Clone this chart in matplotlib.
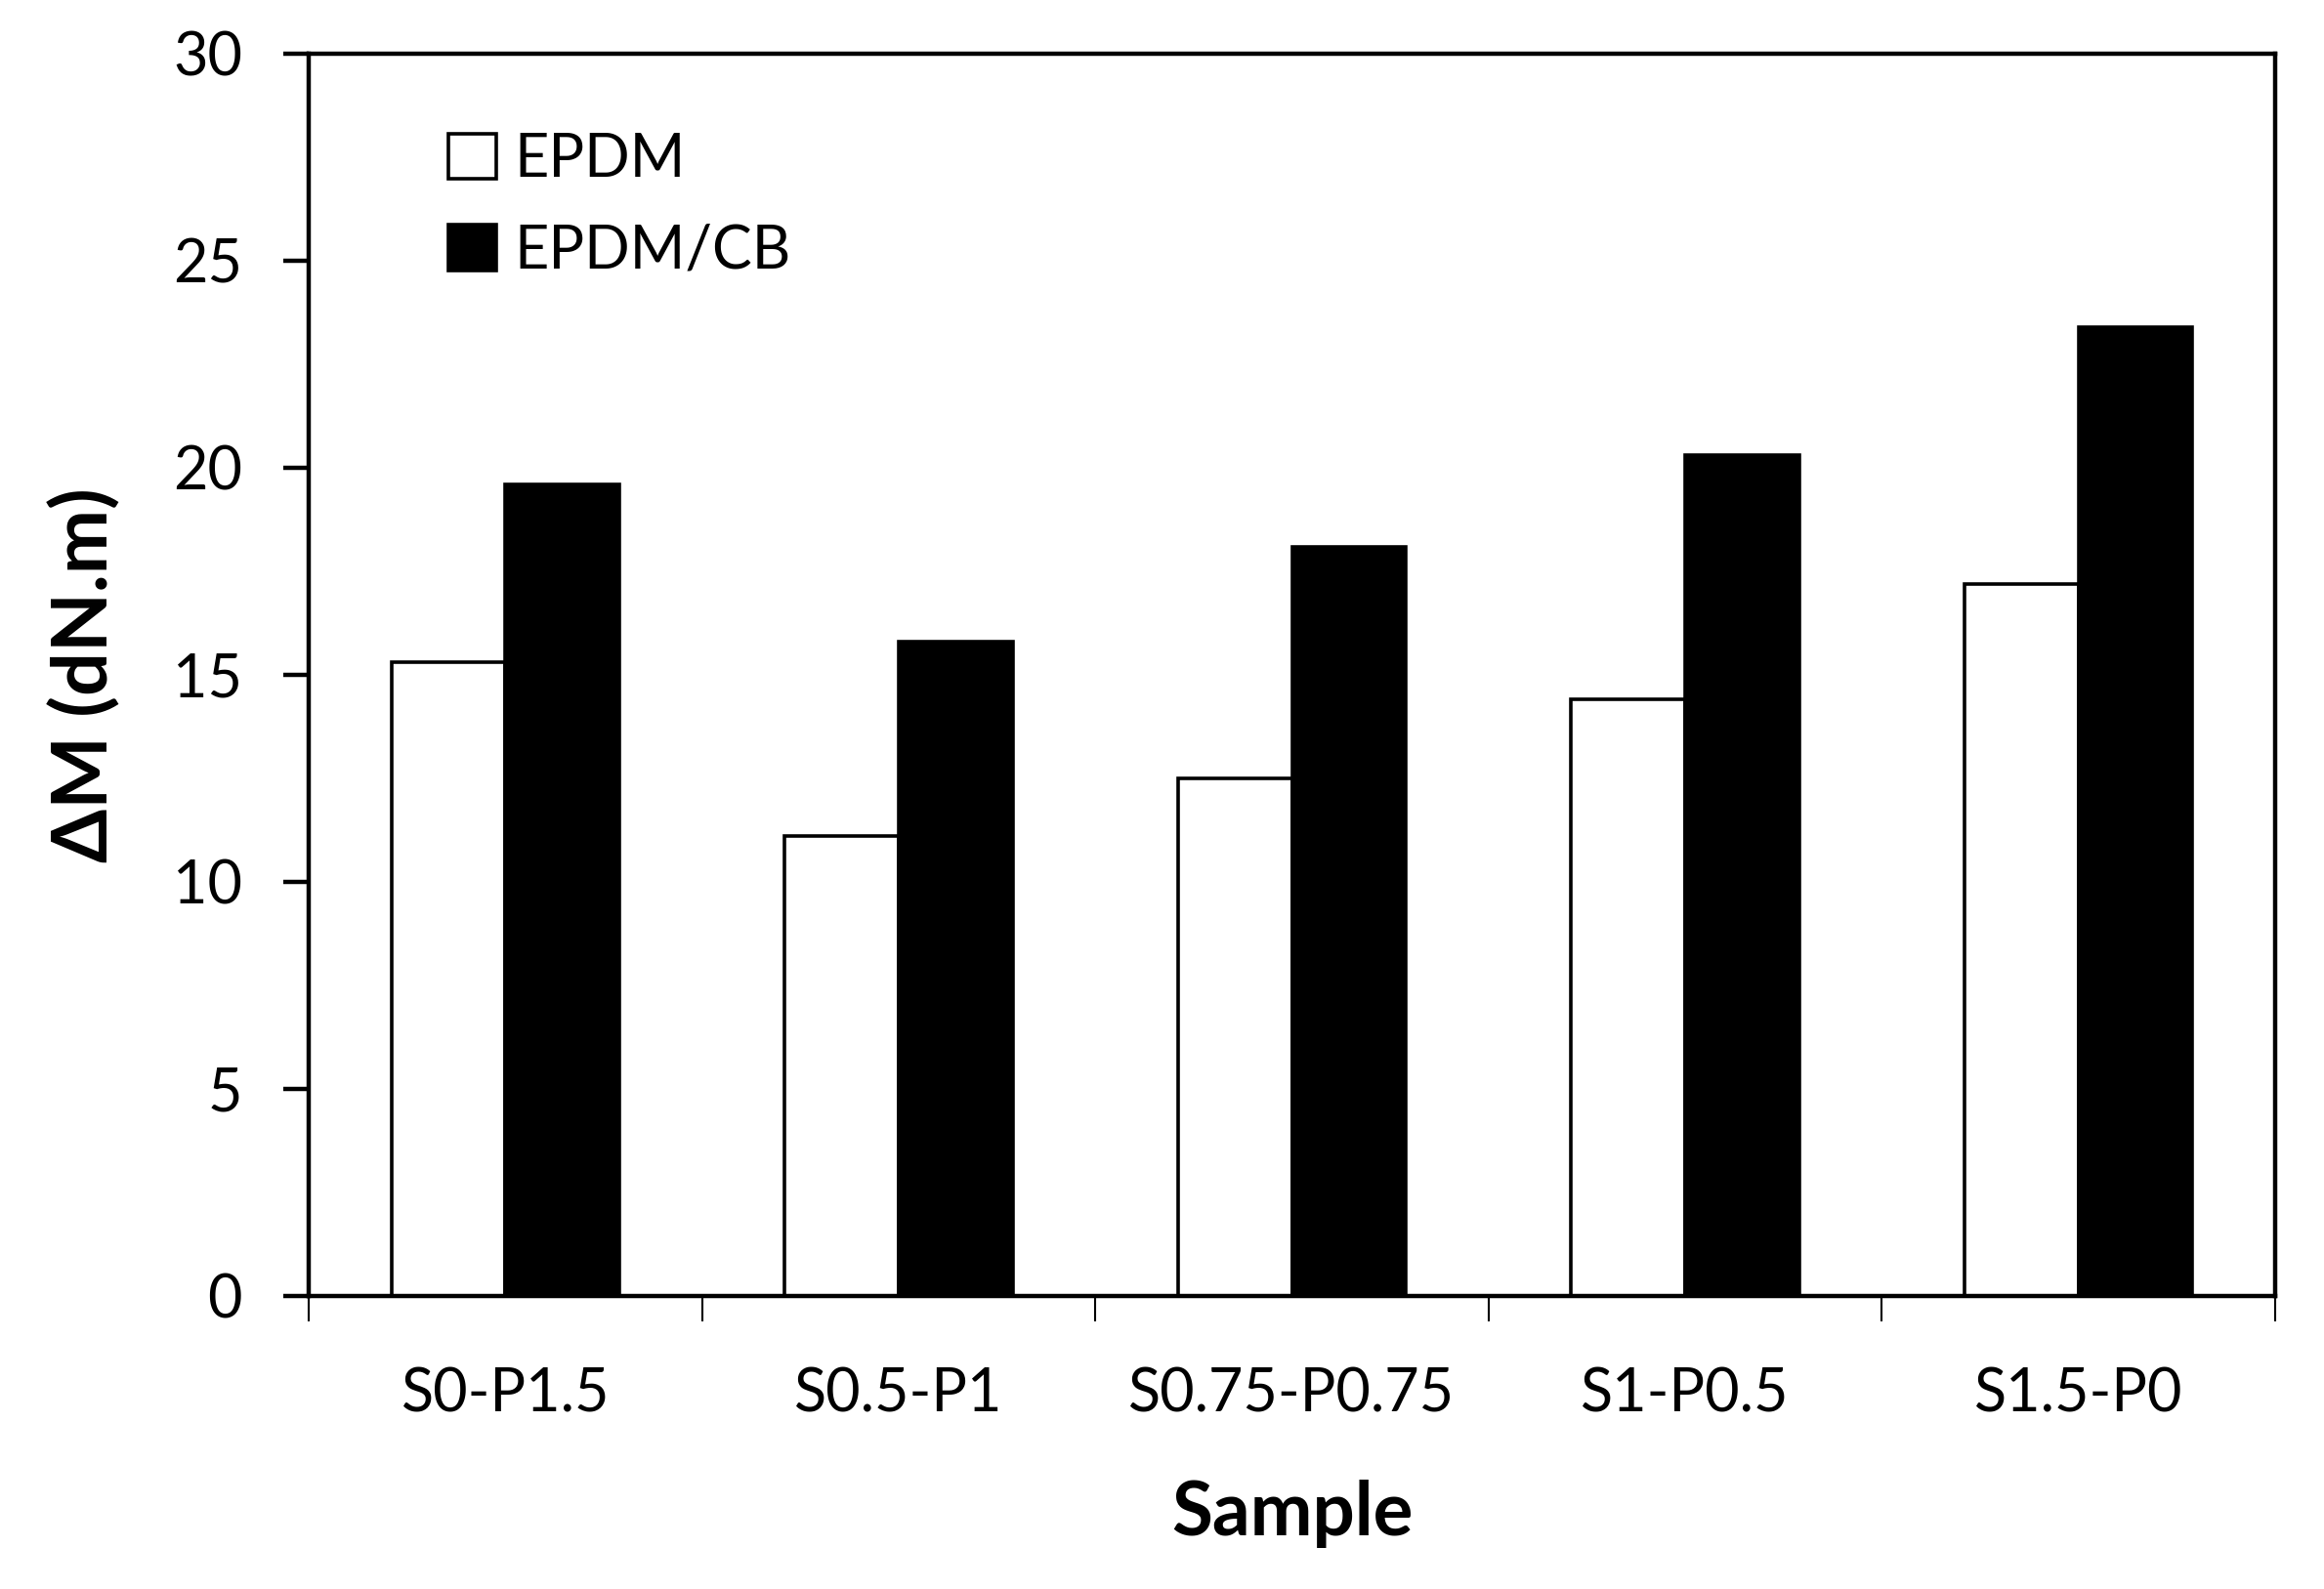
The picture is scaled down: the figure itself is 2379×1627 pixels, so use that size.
import numpy as np
import matplotlib
matplotlib.use("Agg")
import matplotlib.pyplot as plt

samples = ["S0-P1.5", "S0.5-P1", "S0.75-P0.75", "S1-P0.5", "S1.5-P0"]
epdm = [15.3, 11.1, 12.5, 14.4, 17.2]
epdm_cb = [19.6, 15.8, 18.1, 20.3, 23.4]
yticks = [0, 5, 10, 15, 20, 25, 30]

plt.rcParams['font.family'] = ['Lato', 'DejaVu Sans']

fig = plt.figure(figsize=(23.79, 16.27), dpi=100)
ax = fig.add_axes([316/2379, 1 - 1327/1627, (2329-316)/2379, (1327-55)/1627])

x = np.arange(len(samples))
w = 0.29
b1 = ax.bar(x - w/2, epdm, w, color='white', edgecolor='black', linewidth=2.6, label='EPDM', zorder=2)
b2 = ax.bar(x + w/2, epdm_cb, w, color='black', edgecolor='black', linewidth=2.6, label='EPDM/CB', zorder=2)

ax.set_xlim(-0.5, len(samples) - 0.5)
ax.set_ylim(0, 30)
ax.set_yticks(yticks)
ax.set_yticklabels([str(t) for t in yticks])

# boundaries get tick marks, centres get labels
ax.set_xticks(np.arange(len(samples) + 1) - 0.5)
ax.set_xticklabels([])
ax.set_xticks(x, minor=True)
ax.set_xticklabels(samples, minor=True)
ax.tick_params(axis='x', which='major', direction='out', length=19, width=1.5)
ax.tick_params(axis='x', which='minor', length=0, pad=52, labelsize=44)
ax.tick_params(axis='y', direction='out', length=19, width=3.2, pad=30, labelsize=44)

for s in ax.spines.values():
    s.set_linewidth(3.2)

ax.set_ylabel('ΔM (dN.m)', fontsize=57, fontweight='bold', labelpad=38)
ax.set_xlabel('Sample', fontsize=55, fontweight='bold', labelpad=42)

ax.legend(handles=[b1, b2], loc='upper left', bbox_to_anchor=(0.071, 0.937),
          frameon=False, fontsize=44, handlelength=0.8, handleheight=0.8,
          handletextpad=0.3, labelspacing=0.6, borderpad=0, borderaxespad=0)

fig.savefig('out.png', dpi=100)
